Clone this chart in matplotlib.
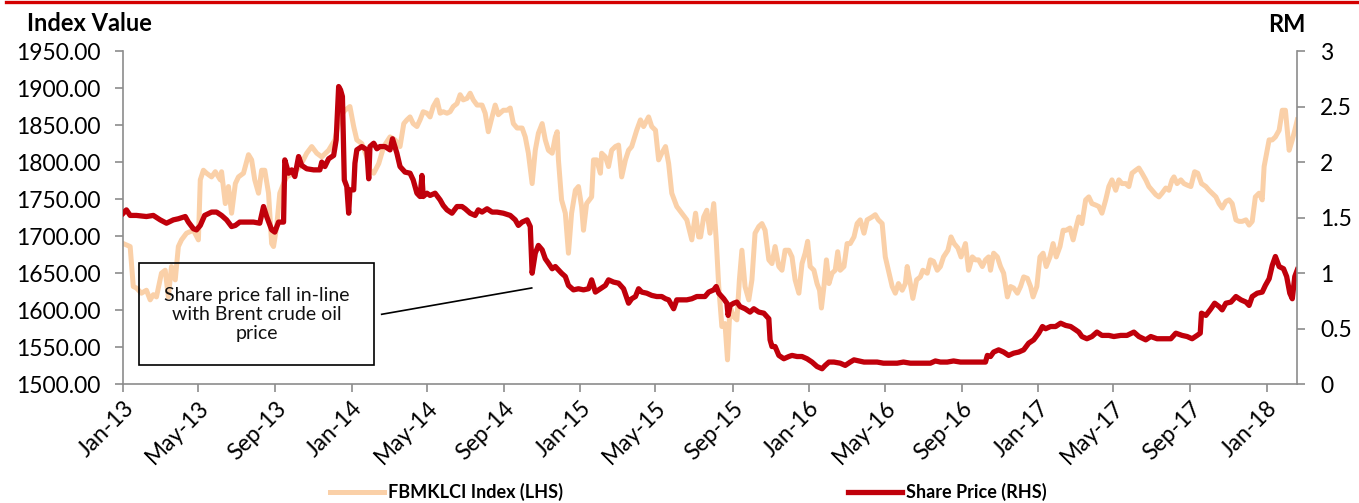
import matplotlib
matplotlib.use("Agg")
import matplotlib.pyplot as plt
import matplotlib.dates as mdates
from matplotlib.lines import Line2D
from matplotlib.patches import Rectangle
import pandas as pd

plt.rcParams['font.family'] = ['Lato', 'DejaVu Sans']

# FBMKLCI index (LHS) - days since 2013-01-01, index level
kl_day = [0, 11, 16, 21, 29, 37, 43, 48, 53, 61, 67, 72, 77, 83, 88, 93, 101, 112, 120,
          123, 128, 133, 141, 147, 155, 157, 163, 168, 173, 179, 184, 192, 200, 205, 210,
          216, 221, 226, 232, 237, 240, 245, 250, 256, 261, 272, 282, 293, 301, 309, 317,
          328, 338, 346, 354, 362, 368, 373, 381, 389, 394, 400, 408, 416, 426, 434, 442,
          448, 453,
          458, 463, 469, 474, 479, 485, 490, 495, 501, 506, 511, 517, 522, 527, 533, 538,
          543, 549, 554, 559, 565, 573, 578, 583, 589, 594, 599, 607, 613, 618, 623, 629,
          637, 642, 647, 653, 658, 663, 669, 674, 679, 685, 690, 693, 695, 700, 706, 711,
          716, 722, 727, 732, 735, 740, 748, 751, 756, 762, 764, 770, 775, 780, 786, 791,
          796, 802, 807, 812, 820, 826, 831, 839, 844, 850, 855, 860, 866, 871, 876, 884,
          892, 900, 908, 914, 919,
          922, 927, 932, 937, 943, 947, 951, 956, 961, 965, 969, 975, 980, 984, 988, 993,
          999, 1004, 1009, 1015, 1020, 1025, 1031, 1036, 1041, 1047, 1052, 1057, 1063,
          1068, 1073, 1079, 1084, 1089, 1093, 1097, 1103, 1108, 1112, 1115, 1119, 1123,
          1127, 1132, 1137, 1141, 1145, 1151, 1156, 1161, 1167, 1172, 1177, 1183, 1188,
          1196, 1201, 1206, 1212, 1217, 1222, 1228, 1233, 1238, 1244, 1249, 1252, 1256,
          1261, 1267, 1273, 1277, 1284, 1289, 1294, 1300, 1305, 1310, 1317, 1322, 1327,
          1333, 1338, 1345, 1350, 1356, 1361, 1366, 1372, 1377, 1382,
          1385, 1390, 1396, 1401, 1406, 1412, 1417, 1422, 1428, 1433, 1438, 1444, 1449,
          1453, 1459, 1464, 1469, 1474, 1480, 1485, 1490, 1496, 1501, 1506, 1512, 1517,
          1522, 1526, 1531, 1537, 1542, 1547, 1553, 1558, 1563, 1569, 1574, 1579, 1585,
          1590, 1595, 1601, 1606, 1611, 1617, 1622, 1627, 1633, 1638, 1643, 1649, 1654,
          1659, 1665, 1670, 1675, 1678, 1683, 1689, 1694, 1699, 1705, 1711, 1716, 1722,
          1729, 1734, 1739, 1745, 1750, 1755, 1761, 1766, 1771, 1777, 1782, 1787, 1793,
          1798, 1803, 1808, 1814, 1819, 1822, 1826, 1830, 1835, 1840, 1846, 1851, 1856,
          1862, 1867, 1871, 1875]
kl_val = [1690, 1686, 1632, 1630, 1623, 1627, 1614, 1621, 1618, 1650, 1654, 1618, 1659, 1641,
          1686, 1695, 1704, 1708, 1695,
          1776, 1789, 1785, 1780, 1787, 1776, 1787, 1744, 1767, 1731, 1771, 1780, 1785, 1810,
          1803, 1776, 1758, 1789, 1789, 1758, 1690, 1686, 1713, 1758, 1771, 1780, 1785, 1794,
          1812, 1821, 1812, 1807, 1816, 1830, 1861, 1870, 1875, 1848, 1830, 1825, 1807, 1789,
          1785, 1798, 1821, 1834, 1830, 1821, 1852, 1857,
          1861, 1852, 1848, 1857, 1868, 1866, 1861, 1875, 1884, 1866, 1868, 1866, 1868, 1875,
          1879, 1891, 1884, 1886, 1893, 1884, 1877, 1877, 1866, 1841, 1861, 1877, 1864, 1870,
          1870, 1873, 1852, 1846, 1846, 1834, 1812, 1771, 1816, 1839, 1852, 1830, 1816, 1812,
          1834, 1841, 1803, 1749, 1731, 1677, 1731, 1762, 1767, 1740, 1708, 1744, 1753, 1803,
          1803, 1785, 1812, 1807, 1794, 1816, 1821, 1823, 1780, 1803, 1816, 1821, 1843, 1857,
          1848, 1861, 1848, 1843, 1803, 1812, 1821, 1798, 1758, 1740, 1731, 1722, 1695, 1731,
          1699,
          1699, 1726, 1735, 1704, 1744, 1695, 1632, 1578, 1582, 1533, 1605, 1591, 1587, 1641,
          1681, 1632, 1614, 1641, 1704, 1713, 1717, 1708, 1668, 1663, 1686, 1659, 1654, 1681,
          1681, 1672, 1641, 1623, 1663, 1677, 1693, 1659, 1654, 1636, 1627, 1603, 1632, 1668,
          1636, 1650, 1654, 1679, 1654, 1659, 1690, 1690, 1699, 1717, 1722, 1704, 1722, 1726,
          1729, 1722, 1717, 1672, 1654, 1632, 1623, 1636, 1627, 1636, 1659, 1641, 1616, 1641,
          1645, 1654, 1650, 1668, 1666, 1654, 1659, 1672, 1681, 1699, 1690, 1684, 1672, 1690,
          1654, 1672, 1668, 1668, 1659, 1668, 1672,
          1654, 1677, 1672, 1659, 1650, 1618, 1632, 1630, 1623, 1632, 1645, 1643, 1632, 1618,
          1632, 1672, 1677, 1659, 1672, 1690, 1672, 1686, 1708, 1708, 1711, 1695, 1713, 1726,
          1717, 1749, 1753, 1744, 1742, 1740, 1731, 1749, 1767, 1776, 1762, 1776, 1771, 1771,
          1767, 1785, 1789, 1792, 1785, 1776, 1767, 1762, 1756, 1753, 1758, 1765, 1762, 1776,
          1780, 1771, 1776, 1771, 1769, 1767, 1787, 1785, 1771, 1767, 1762, 1758, 1753, 1744,
          1738, 1747, 1749, 1744, 1722, 1720, 1720, 1722, 1715, 1720, 1753, 1758, 1749, 1794,
          1812, 1830, 1830, 1834, 1843, 1870, 1870, 1816, 1830, 1843, 1857]

# Share price (RHS, RM) - days since 2013-01-01, price
sp_day = [0, 5, 11, 21, 37, 48, 59, 69, 80, 88, 99, 104, 112, 117, 123, 130, 141, 149, 157,
          165, 173, 179, 186, 197, 208, 218, 224, 229, 237, 242, 248, 256, 258, 264, 269,
          274, 280, 285, 293, 304, 314, 317, 322, 328, 336, 340, 344, 347, 350, 353, 357,
          360, 362, 368, 370, 373, 381, 389, 392, 394, 400, 405, 410, 418, 426, 430, 437,
          442, 450,
          458, 463, 469, 474, 477, 479, 485, 490, 498, 506, 511, 517, 525, 533, 541, 546,
          554, 562, 567, 573, 581, 589, 597, 607, 618, 626, 631, 637, 645, 650, 653, 658,
          663, 669, 674, 679, 685, 690, 695, 700, 706, 711, 719, 727, 735, 743, 748, 754,
          762, 770, 775, 783, 791, 799, 807, 812, 818, 823, 828, 836, 844, 852, 860, 866,
          871, 879, 884, 892, 900, 908, 916,
          922, 929, 935, 943, 947, 951, 959, 964, 966, 969, 975, 980, 985, 993, 1001, 1007,
          1015, 1023, 1031, 1033, 1036, 1041, 1047, 1055, 1063, 1068, 1076, 1084, 1092,
          1100, 1108, 1116, 1121, 1127, 1135, 1145, 1153, 1161, 1167, 1175, 1183, 1193,
          1204, 1214, 1225, 1236, 1246, 1257, 1268, 1278, 1289, 1297, 1305, 1316, 1326,
          1337, 1348, 1358, 1369, 1377, 1380, 1385,
          1390, 1398, 1406, 1414, 1422, 1430, 1438, 1446, 1454, 1462, 1468, 1473, 1481,
          1489, 1497, 1505, 1513, 1521, 1526, 1531, 1539, 1547, 1555, 1563, 1574, 1582,
          1593, 1603, 1614, 1622, 1633, 1641, 1651, 1662, 1673, 1681, 1691, 1699, 1707,
          1715, 1720, 1722, 1729, 1737, 1743, 1750, 1755, 1761, 1769, 1777, 1785, 1793,
          1798, 1803, 1811, 1819, 1824, 1830, 1835, 1840, 1846, 1853, 1858, 1863, 1867,
          1871, 1875]
sp_val = [1.54, 1.57, 1.52, 1.52, 1.51, 1.52, 1.48, 1.45, 1.48, 1.49, 1.51, 1.46, 1.40, 1.39,
          1.43, 1.52, 1.55, 1.55, 1.52, 1.48, 1.42, 1.43, 1.46, 1.46, 1.46, 1.45, 1.60, 1.51,
          1.39, 1.37, 1.46, 1.46, 2.02, 1.90, 1.93, 1.87, 2.05, 1.97, 1.94, 1.93, 1.93, 2.00,
          1.96, 2.03, 2.06, 2.20, 2.68, 2.65, 2.59, 1.84, 1.78, 1.54, 1.75, 1.75, 1.99, 2.11,
          2.14, 2.11, 1.85, 2.14, 2.17, 2.12, 2.14, 2.14, 2.11, 2.21, 2.08, 1.96, 1.91,
          1.90, 1.84, 1.72, 1.69, 1.88, 1.69, 1.72, 1.70, 1.72, 1.66, 1.61, 1.57, 1.54, 1.60,
          1.60, 1.58, 1.54, 1.52, 1.57, 1.55, 1.58, 1.55, 1.55, 1.54, 1.52, 1.48, 1.43, 1.46,
          1.48, 1.42, 1.00, 1.18, 1.25, 1.21, 1.13, 1.09, 1.04, 1.06, 1.03, 1.00, 0.97, 0.89,
          0.85, 0.86, 0.85, 0.86, 0.94, 0.83, 0.86, 0.89, 0.94, 0.92, 0.91, 0.86, 0.73, 0.77,
          0.79, 0.86, 0.83, 0.82, 0.80, 0.79, 0.79, 0.77, 0.76, 0.68, 0.76, 0.76, 0.76, 0.77,
          0.79,
          0.79, 0.79, 0.83, 0.85, 0.88, 0.82, 0.77, 0.73, 0.62, 0.71, 0.73, 0.74, 0.70, 0.68,
          0.65, 0.68, 0.65, 0.64, 0.59, 0.40, 0.34, 0.34, 0.26, 0.23, 0.25, 0.26, 0.25, 0.25,
          0.23, 0.20, 0.16, 0.14, 0.17, 0.20, 0.20, 0.19, 0.17, 0.20, 0.22, 0.21, 0.20, 0.20,
          0.20, 0.19, 0.19, 0.19, 0.20, 0.19, 0.19, 0.19, 0.19, 0.21, 0.20, 0.20, 0.21, 0.20,
          0.20, 0.20, 0.20, 0.20, 0.26, 0.25,
          0.29, 0.31, 0.29, 0.26, 0.28, 0.29, 0.31, 0.37, 0.40, 0.46, 0.52, 0.50, 0.52, 0.52,
          0.55, 0.53, 0.52, 0.49, 0.47, 0.43, 0.41, 0.43, 0.47, 0.44, 0.44, 0.43, 0.44, 0.44,
          0.47, 0.43, 0.40, 0.43, 0.41, 0.41, 0.41, 0.46, 0.44, 0.43, 0.41, 0.44, 0.46, 0.64,
          0.62, 0.68, 0.73, 0.70, 0.67, 0.73, 0.74, 0.79, 0.76, 0.74, 0.71, 0.79, 0.82, 0.83,
          0.89, 0.95, 1.07, 1.15, 1.06, 1.04, 0.97, 0.82, 0.77, 0.97, 1.03]

left_ticks = [1500, 1550, 1600, 1650, 1700, 1750, 1800, 1850, 1900, 1950]
right_ticks = [0, 0.5, 1, 1.5, 2, 2.5, 3]
start = pd.Timestamp("2013-01-01")
end = pd.Timestamp("2018-02-19")

kl_dates = start + pd.to_timedelta(kl_day, unit="D")
sp_dates = start + pd.to_timedelta(sp_day, unit="D")

ORANGE = "#FAD0A8"
RED = "#C0000B"
GREY = "#8C8C8C"

fig = plt.figure(figsize=(13.59, 5.03), dpi=100)
ax = fig.add_axes([0.0907, 0.2360, 0.8639, 0.6626])
ax2 = ax.twinx()

l1, = ax.plot(kl_dates, kl_val, color=ORANGE, lw=3.6, solid_joinstyle="round")
l2, = ax2.plot(sp_dates, sp_val, color=RED, lw=3.8, solid_joinstyle="round")

ax.set_xlim(start, end)
ax.set_ylim(1500, 1950)
ax2.set_ylim(0, 3)
ax.set_yticks(left_ticks)
ax2.set_yticks(right_ticks)
ax.yaxis.set_major_formatter(plt.FuncFormatter(lambda v, p: "%.2f" % v))
ax2.yaxis.set_major_formatter(plt.FuncFormatter(lambda v, p: "%g" % v))
ax.xaxis.set_major_locator(mdates.MonthLocator(bymonth=[1, 5, 9]))
ax.xaxis.set_major_formatter(mdates.DateFormatter("%b-%y"))

for a in (ax, ax2):
    a.spines["top"].set_visible(False)
    for s in ("left", "right", "bottom"):
        a.spines[s].set_color(GREY)
        a.spines[s].set_linewidth(1.2)
    a.tick_params(length=5.5, width=1.2, color=GREY, labelsize=16.5, pad=11)
ax.spines["right"].set_visible(False)
ax2.spines["left"].set_visible(False)
ax2.spines["bottom"].set_visible(False)
ax.tick_params(axis="x", pad=4)
for lab in ax.get_xticklabels():
    lab.set_rotation(45)
    lab.set_ha("right")
    lab.set_va("top")
    lab.set_rotation_mode("anchor")

# axis titles
fig.text(27 / 1359, 1 - 24 / 503, "Index Value", fontsize=17, fontweight="bold",
         ha="left", va="center")
fig.text(1306 / 1359, 1 - 25 / 503, "RM", fontsize=17, fontweight="bold",
         ha="right", va="center")

# annotation box
ax.add_patch(Rectangle((0.0136, 0.058), 0.1999, 0.305, transform=ax.transAxes,
                       fill=False, edgecolor="black", lw=1.2, zorder=5))
ax.text(0.1136, 0.21, "Share price fall in-line\nwith Brent crude oil\nprice",
        transform=ax.transAxes, ha="center", va="center", fontsize=14,
        linespacing=1.15, zorder=6, color="#111111")
ax.add_line(Line2D([0.2201, 0.3479], [0.21, 0.289], transform=ax.transAxes,
                   color="black", lw=1.2, zorder=5))

# legend
fig.legend([l1, l2], ["FBMKLCI Index (LHS)", "Share Price (RHS)"], loc="center",
           bbox_to_anchor=(0.5066, 1 - 492 / 503), ncol=2, frameon=False,
           prop={"weight": "bold", "size": 13}, handlelength=3.0, handletextpad=0.2,
           columnspacing=15.8)

# red rule at top
fig.add_artist(Line2D([6 / 1359, 1.0], [1 - 1.5 / 503] * 2, color="#D40000", lw=2.4))

fig.savefig("out.png", dpi=100)
